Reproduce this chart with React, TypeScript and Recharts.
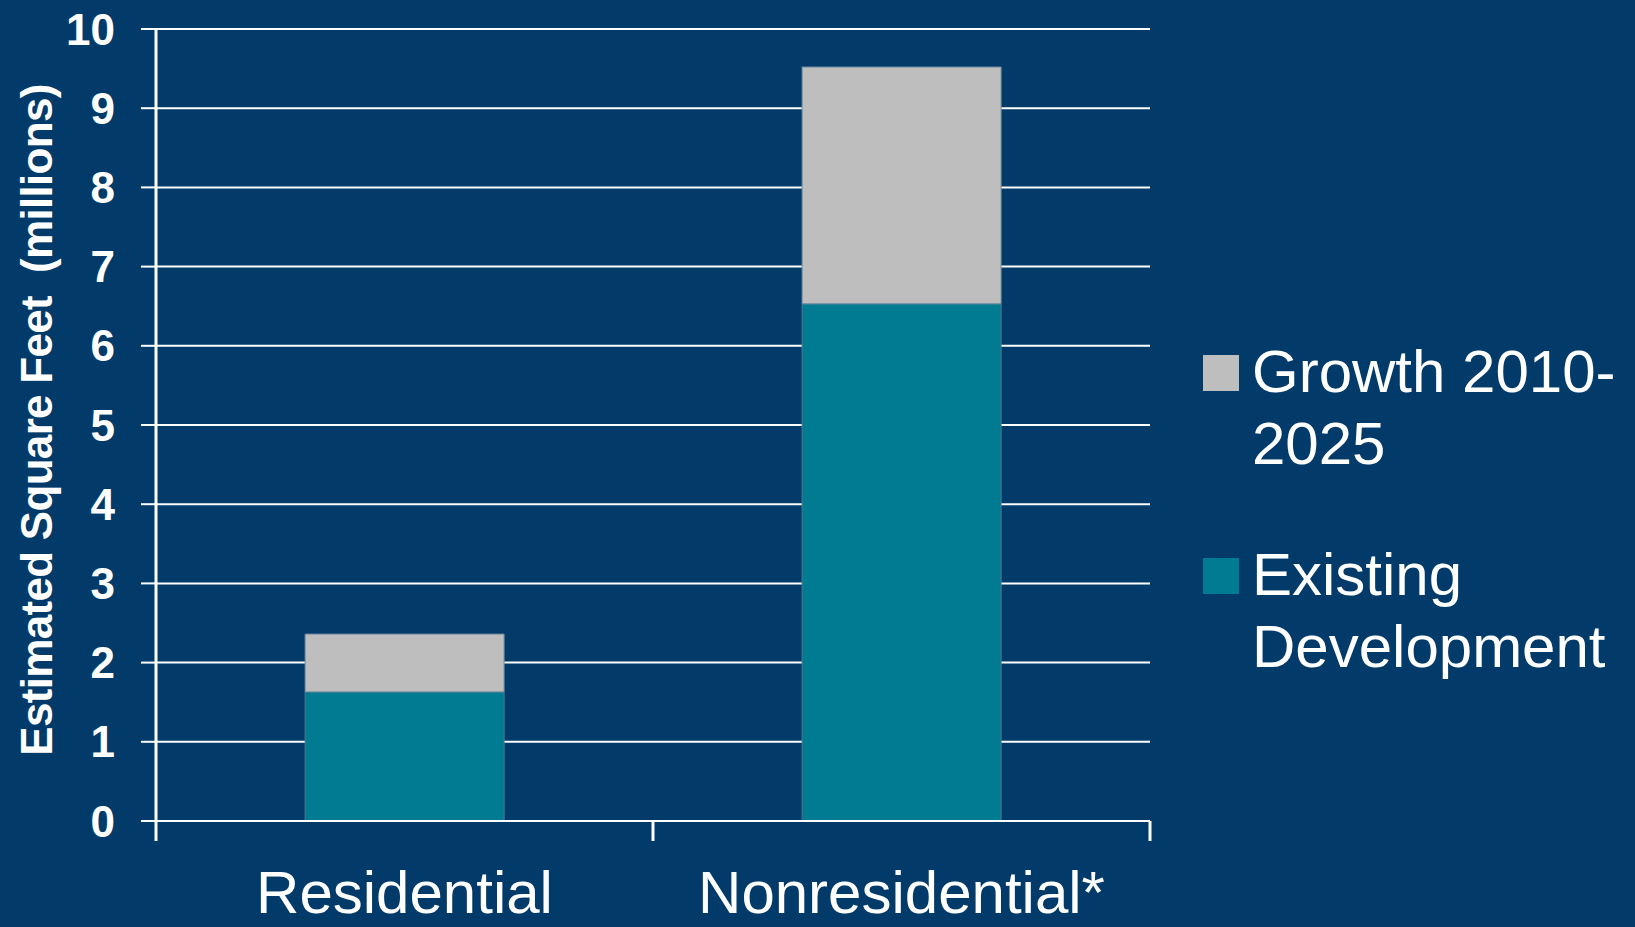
import React from "react";
import {
  BarChart,
  Bar,
  XAxis,
  YAxis,
  CartesianGrid,
  Legend,
  Label,
} from "recharts";

const categories = ["Residential", "Nonresidential*"];
const existing = [1.63, 6.53];
const growth = [0.73, 2.99];
const yTicks = [0, 1, 2, 3, 4, 5, 6, 7, 8, 9, 10];

const seriesNames = {
  existing: "Existing\nDevelopment",
  growth: "Growth 2010-\n2025",
};

const BG = "#023b69";
const TEAL = "#017b92";
const GREY = "#bebebe";
const FONT = "'Liberation Sans', Arial, sans-serif";

const data = categories.map((name, i) => ({
  name,
  existing: existing[i],
  growth: growth[i],
}));

// label under each band, plus the tick marks on the band edges
const CategoryTick = (props: any) => {
  const { x, y, payload, index, width, visibleTicksCount } = props;
  const band = width / visibleTicksCount;
  const axisY = y - 49;
  const left = x - band / 2;
  const right = x + band / 2;
  return (
    <g>
      <line x1={left} x2={left} y1={axisY} y2={axisY + 20} stroke="#ffffff" strokeWidth={3} />
      {index === visibleTicksCount - 1 && (
        <line x1={right} x2={right} y1={axisY} y2={axisY + 20} stroke="#ffffff" strokeWidth={3} />
      )}
      <text
        x={x}
        y={y}
        dy="0.71em"
        textAnchor="middle"
        fill="#ffffff"
        fontSize={60}
        fontFamily={FONT}
      >
        {payload.value}
      </text>
    </g>
  );
};

const LegendContent = (props: any) => {
  const items = [...(props.payload || [])].reverse();
  return (
    <div style={{ width: 475, paddingLeft: 53, boxSizing: "border-box" }}>
      {items.map((item: any, i: number) => (
        <div
          key={item.value}
          style={{
            display: "flex",
            alignItems: "flex-start",
            marginBottom: i === 0 ? 59 : 0,
          }}
        >
          <div
            style={{
              width: 36,
              height: 36,
              marginTop: 19,
              marginRight: 13,
              background: item.color,
              flexShrink: 0,
            }}
          />
          <div
            style={{
              color: "#ffffff",
              fontFamily: FONT,
              fontSize: 60,
              lineHeight: "72px",
              whiteSpace: "pre-line",
            }}
          >
            {item.value}
          </div>
        </div>
      ))}
    </div>
  );
};

const AxisTitle = (props: any) => {
  const { viewBox } = props;
  const cy = viewBox.y + viewBox.height / 2 - 5;
  return (
    <text
      x={52}
      y={cy}
      transform={`rotate(-90, 52, ${cy})`}
      textAnchor="middle"
      fill="#ffffff"
      fontSize={44}
      fontWeight="bold"
      letterSpacing={-0.7}
      fontFamily={FONT}
      style={{ whiteSpace: "pre" }}
    >
      Estimated Square Feet  (millions)
    </text>
  );
};

export default function App() {
  return (
    <div
      style={{
        position: "absolute",
        left: 0,
        top: 0,
        width: 1635,
        height: 927,
        background: BG,
      }}
    >
      <BarChart
        width={1635}
        height={927}
        data={data}
        margin={{ top: 29, right: 10, left: 0, bottom: 6 }}
        barCategoryGap="30%"
      >
        <CartesianGrid
          horizontal
          vertical={false}
          stroke="#ffffff"
          strokeWidth={2}
        />
        <XAxis
          dataKey="name"
          height={100}
          axisLine={{ stroke: "#ffffff", strokeWidth: 2 }}
          tickLine={false}
          tickSize={0}
          tickMargin={49}
          tick={<CategoryTick />}
          interval={0}
        />
        <YAxis
          width={156}
          domain={[0, 10]}
          ticks={yTicks}
          interval={0}
          tickSize={15}
          tickMargin={26}
          axisLine={{ stroke: "#ffffff", strokeWidth: 3 }}
          tickLine={{ stroke: "#ffffff", strokeWidth: 2 }}
          tick={{
            fill: "#ffffff",
            fontSize: 44,
            fontWeight: "bold",
            fontFamily: FONT,
          }}
        >
          <Label content={<AxisTitle />} />
        </YAxis>
        <Legend
          layout="vertical"
          align="right"
          verticalAlign="middle"
          wrapperStyle={{ top: 336 }}
          content={<LegendContent />}
        />
        <Bar
          dataKey="existing"
          name={seriesNames.existing}
          stackId="a"
          fill={TEAL}
          stroke="#4f7891"
          strokeWidth={1}
          isAnimationActive={false}
        />
        <Bar
          dataKey="growth"
          name={seriesNames.growth}
          stackId="a"
          fill={GREY}
          stroke="#6f8aa0"
          strokeWidth={1}
          isAnimationActive={false}
        />
      </BarChart>
    </div>
  );
}
